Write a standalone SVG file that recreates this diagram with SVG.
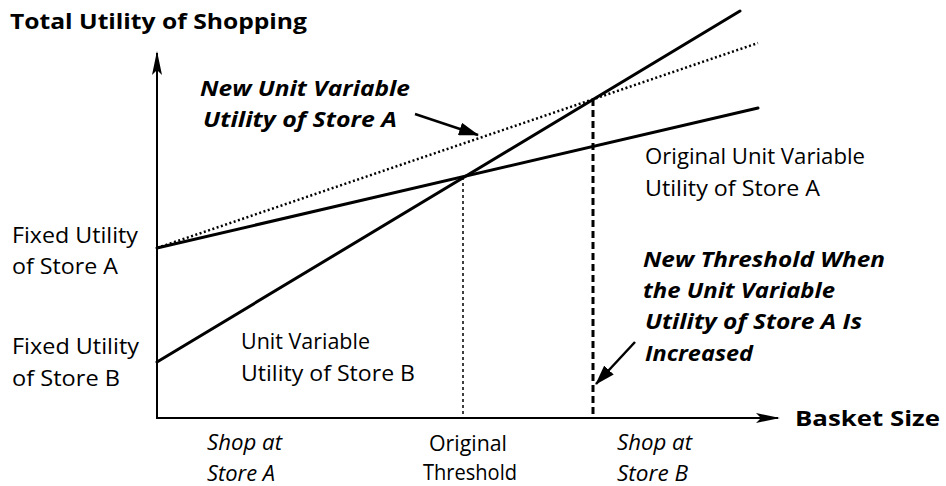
<svg xmlns="http://www.w3.org/2000/svg" width="946" height="486" viewBox="0 0 946 486">
<style>
text{font-family:"Open Sans","Liberation Sans",sans-serif;fill:#000}
.b{font-weight:700;font-size:20.5px}
.bi{font-weight:700;font-style:italic;font-size:21px}
.r{font-weight:400;font-size:21px}
.m{font-weight:500;font-size:21px}
.i{font-style:italic;font-weight:500;font-size:21px}
.ax{stroke:#000;stroke-width:2;fill:none}
.ln{stroke:#000;stroke-width:3;fill:none;stroke-linecap:round}
</style>
<defs>
<marker id="ah" markerWidth="24" markerHeight="10" refX="22" refY="5" orient="auto" markerUnits="userSpaceOnUse">
<path d="M0,0 L24,5 L0,10 L5,5 Z" fill="#000"/>
</marker>
<marker id="ah2" markerWidth="20" markerHeight="13" refX="19" refY="6.5" orient="auto" markerUnits="userSpaceOnUse">
<path d="M0,0 L20,6.5 L0,13 Z" fill="#000"/>
</marker>
</defs>
<rect width="946" height="486" fill="#fff"/>
<g id="connectors">
<line class="ax" x1="157" y1="418" x2="157" y2="53" marker-end="url(#ah)"/>
<line class="ax" x1="156" y1="418" x2="778" y2="418" marker-end="url(#ah)"/>
<line id="storeA" class="ln" x1="157" y1="248" x2="758" y2="108"/>
<line id="storeB" class="ln" x1="157" y1="362" x2="740" y2="11"/>
<line id="newA" x1="157" y1="248" x2="758" y2="43" stroke="#000" stroke-width="2.5" stroke-dasharray="2,2.5"/>
<line id="origThr" x1="463" y1="177" x2="463" y2="418" stroke="#000" stroke-width="1.5" stroke-dasharray="3,3"/>
<line id="newThr" x1="593" y1="99" x2="593" y2="418" stroke="#000" stroke-width="3" stroke-dasharray="7,4"/>
<line x1="415" y1="114" x2="478" y2="135" stroke="#000" stroke-width="2.5" marker-end="url(#ah2)"/>
<line x1="635" y1="342" x2="596" y2="384" stroke="#000" stroke-width="2.5" marker-end="url(#ah2)"/>
</g>
<g id="title"><text class="b" x="10" y="29" textLength="297" lengthAdjust="spacingAndGlyphs">Total Utility of Shopping</text></g>
<g id="xlabel"><text class="b" x="795" y="426" textLength="145" lengthAdjust="spacingAndGlyphs">Basket Size</text></g>
<g id="fixedA"><text class="m" x="12" y="243" textLength="126" lengthAdjust="spacingAndGlyphs">Fixed Utility</text><text class="m" x="12" y="274" textLength="106" lengthAdjust="spacingAndGlyphs">of Store A</text></g>
<g id="fixedB"><text class="m" x="12" y="354" textLength="127" lengthAdjust="spacingAndGlyphs">Fixed Utility</text><text class="m" x="12" y="386" textLength="108" lengthAdjust="spacingAndGlyphs">of Store B</text></g>
<g id="newUnitLabel"><text class="bi" x="200" y="96" textLength="210" lengthAdjust="spacingAndGlyphs">New Unit Variable</text><text class="bi" x="203" y="127" textLength="194" lengthAdjust="spacingAndGlyphs">Utility of Store A</text></g>
<g id="origUnitLabel"><text class="r" x="645" y="164" textLength="220" lengthAdjust="spacingAndGlyphs">Original Unit Variable</text><text class="r" x="645" y="196" textLength="175" lengthAdjust="spacingAndGlyphs">Utility of Store A</text></g>
<g id="unitBLabel"><text class="r" x="241" y="349" textLength="129" lengthAdjust="spacingAndGlyphs">Unit Variable</text><text class="r" x="241" y="381" textLength="174" lengthAdjust="spacingAndGlyphs">Utility of Store B</text></g>
<g id="newThrLabel"><text class="bi" x="643" y="267" textLength="242" lengthAdjust="spacingAndGlyphs">New Threshold When</text><text class="bi" x="643" y="298" textLength="192" lengthAdjust="spacingAndGlyphs">the Unit Variable</text><text class="bi" x="645" y="329" textLength="217" lengthAdjust="spacingAndGlyphs">Utility of Store A Is</text><text class="bi" x="645" y="361" textLength="108" lengthAdjust="spacingAndGlyphs">Increased</text></g>
<g id="shopA"><text class="i" x="207" y="450" textLength="75" lengthAdjust="spacingAndGlyphs">Shop at</text><text class="i" x="207" y="481" textLength="68" lengthAdjust="spacingAndGlyphs">Store A</text></g>
<g id="origThrLabel"><text class="r" x="429" y="451" textLength="78" lengthAdjust="spacingAndGlyphs">Original</text><text class="r" x="423" y="480" textLength="94" lengthAdjust="spacingAndGlyphs">Threshold</text></g>
<g id="shopB"><text class="i" x="617" y="450" textLength="75" lengthAdjust="spacingAndGlyphs">Shop at</text><text class="i" x="617" y="481" textLength="71" lengthAdjust="spacingAndGlyphs">Store B</text></g>
</svg>
